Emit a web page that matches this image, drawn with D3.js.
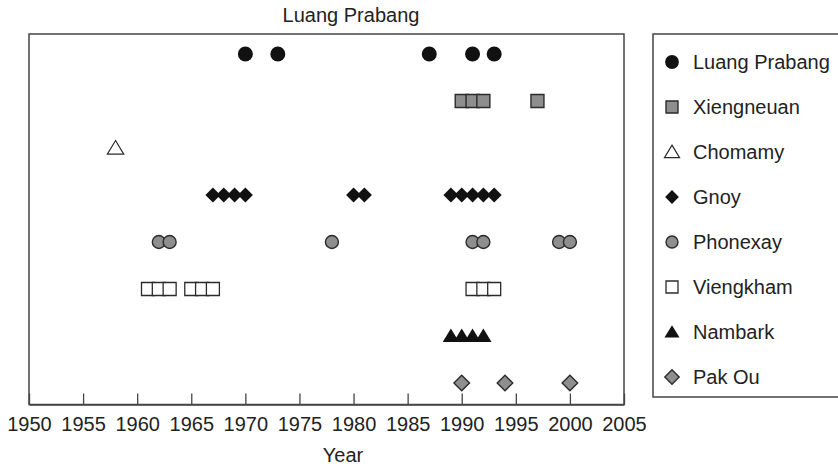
<!DOCTYPE html>
<html>
<head>
<meta charset="utf-8">
<script src="https://cdn.jsdelivr.net/npm/d3@7"></script>
<style>
  body { margin: 0; background: #fff; }
  svg { display: block; font-family: "Liberation Sans", Arial, sans-serif; }
</style>
</head>
<body>
<div id="chart"></div>
<script>
// Data: years of record per district
const seriesNames = ['Luang Prabang', 'Xiengneuan', 'Chomamy', 'Gnoy', 'Phonexay', 'Viengkham', 'Nambark', 'Pak Ou'];
const luangPrabangYears = [1970, 1973, 1987, 1991, 1993];
const xiengneuanYears = [1990, 1991, 1992, 1997];
const chomamyYears = [1958];
const gnoyYears = [1967, 1968, 1969, 1970, 1980, 1981, 1989, 1990, 1991, 1992, 1993];
const phonexayYears = [1962, 1963, 1978, 1991, 1992, 1999, 2000];
const viengkhamYears = [1961, 1962, 1963, 1965, 1966, 1967, 1991, 1992, 1993];
const nambarkYears = [1989, 1990, 1991, 1992];
const pakOuYears = [1990, 1994, 2000];
const yearTicks = [1950, 1955, 1960, 1965, 1970, 1975, 1980, 1985, 1990, 1995, 2000, 2005];
const chartTitle = 'Luang Prabang';
const xTitle = 'Year';

const yearsByName = {
  'Luang Prabang': luangPrabangYears,
  'Xiengneuan': xiengneuanYears,
  'Chomamy': chomamyYears,
  'Gnoy': gnoyYears,
  'Phonexay': phonexayYears,
  'Viengkham': viengkhamYears,
  'Nambark': nambarkYears,
  'Pak Ou': pakOuYears
};

// custom symbol shapes, size = half width
const diamond = {
  draw(ctx, r) {
    ctx.moveTo(0, -r); ctx.lineTo(r, 0); ctx.lineTo(0, r); ctx.lineTo(-r, 0); ctx.closePath();
  }
};
const square = {
  draw(ctx, r) {
    ctx.moveTo(-r, -r); ctx.lineTo(r, -r); ctx.lineTo(r, r); ctx.lineTo(-r, r); ctx.closePath();
  }
};
const triangle = {
  draw(ctx, r) {
    const h = r * 1.65;
    ctx.moveTo(0, -h * 0.55); ctx.lineTo(r, h * 0.45); ctx.lineTo(-r, h * 0.45); ctx.closePath();
  }
};
const circle = {
  draw(ctx, r) { ctx.arc(0, 0, r, 0, 2 * Math.PI); }
};

const GREY = '#8e8e8e';
const INK = '#2b2b2b';
const FONT = '20px';
const styles = {
  'Luang Prabang': { shape: circle, size: 7.5, fill: '#111', stroke: 'none', sw: 0 },
  'Xiengneuan': { shape: square, size: 6.5, fill: GREY, stroke: INK, sw: 1.4 },
  'Chomamy': { shape: triangle, size: 8.2, fill: '#fff', stroke: INK, sw: 1.2 },
  'Gnoy': { shape: diamond, size: 7.5, fill: '#111', stroke: 'none', sw: 0 },
  'Phonexay': { shape: circle, size: 6.5, fill: GREY, stroke: INK, sw: 1.4 },
  'Viengkham': { shape: square, size: 6.5, fill: '#fff', stroke: INK, sw: 1.3 },
  'Nambark': { shape: triangle, size: 8.2, fill: '#111', stroke: 'none', sw: 0 },
  'Pak Ou': { shape: diamond, size: 7.8, fill: GREY, stroke: INK, sw: 1.4 }
};

const width = 838;
const height = 467;
const plot = { left: 29, top: 34, right: 624, bottom: 404.5 };

const svg = d3.select('#chart').append('svg')
  .attr('width', width)
  .attr('height', height);

const x = d3.scaleLinear()
  .domain([1950, 2005])
  .range([plot.left, plot.right]);

const y = d3.scalePoint()
  .domain(seriesNames)
  .range([54, 383]);

// Frame
svg.append('rect')
  .attr('x', plot.left)
  .attr('y', plot.top)
  .attr('width', plot.right - plot.left)
  .attr('height', plot.bottom - plot.top)
  .attr('fill', 'none')
  .attr('stroke', '#444')
  .attr('stroke-width', 1.5);

// Axis, ticks point inward
const xAxis = svg.append('g')
  .attr('transform', `translate(0,${plot.bottom})`)
  .call(d3.axisBottom(x).tickValues(yearTicks).tickFormat(d3.format('d'))
    .tickSizeInner(-11).tickSizeOuter(0).tickPadding(12.5));
xAxis.select('.domain').attr('stroke', '#444').attr('stroke-width', 1.5);
xAxis.selectAll('.tick line').attr('stroke', '#444').attr('stroke-width', 1.3);
xAxis.selectAll('.tick text')
  .attr('fill', '#222')
  .attr('font-size', FONT)
  .attr('font-family', '"Liberation Sans", Arial, sans-serif');

// Points
const sym = d3.symbol();
seriesNames.forEach(name => {
  const st = styles[name];
  svg.append('g')
    .selectAll('path')
    .data(yearsByName[name])
    .join('path')
    .attr('transform', d => `translate(${x(d)},${y(name)})`)
    .attr('d', sym.type(st.shape).size(st.size)())
    .attr('fill', st.fill)
    .attr('stroke', st.stroke)
    .attr('stroke-width', st.sw);
});

// Titles
svg.append('text')
  .attr('x', 351)
  .attr('y', 22)
  .attr('text-anchor', 'middle')
  .attr('font-size', FONT)
  .attr('fill', '#222')
  .text(chartTitle);

svg.append('text')
  .attr('x', 343)
  .attr('y', 462)
  .attr('text-anchor', 'middle')
  .attr('font-size', FONT)
  .attr('fill', '#222')
  .text(xTitle);

// Legend
const legend = svg.append('g');
legend.append('rect')
  .attr('x', 653)
  .attr('y', 34)
  .attr('width', 200)
  .attr('height', 363)
  .attr('fill', 'none')
  .attr('stroke', '#444')
  .attr('stroke-width', 1.5);

seriesNames.forEach((name, i) => {
  const st = styles[name];
  const row = legend.append('g').attr('transform', `translate(0,${62 + i * 45})`);
  row.append('path')
    .attr('transform', 'translate(672,0)')
    .attr('d', sym.type(st.shape).size(st.size * 0.92)())
    .attr('fill', st.fill)
    .attr('stroke', st.stroke)
    .attr('stroke-width', st.sw);
  row.append('text')
    .attr('x', 693)
    .attr('y', 7)
    .attr('font-size', FONT)
    .attr('fill', '#222')
    .text(name);
});
</script>
</body>
</html>
